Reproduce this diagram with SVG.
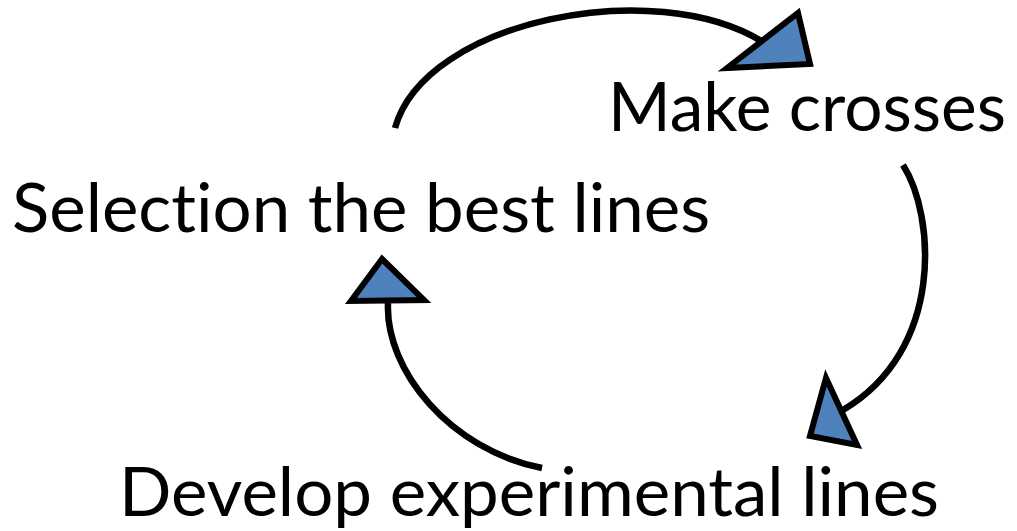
<svg xmlns="http://www.w3.org/2000/svg" width="1017" height="531" viewBox="0 0 1017 531">
  <style>
    .label { font-family: Lato, "Open Sans", "Liberation Sans", sans-serif; font-size: 68px; fill: #000; font-variant-ligatures: none; font-feature-settings: "liga" 0, "dlig" 0; }
    .arc { fill: none; stroke: #000; stroke-width: 6.5; }
    .head { fill: #4f81bd; stroke: #000; stroke-width: 6; stroke-linejoin: miter; }
  </style>
  <rect width="1017" height="531" fill="#fff"/>

  <g id="connectors">
    <!-- selection -> crosses -->
    <path class="arc" d="M395,128 C425,20 655,-25 763,42"/>
    <polygon class="head" points="727,68 798,13 810,64"/>
    <!-- crosses -> develop -->
    <path class="arc" d="M903,165 C935,215 945,350 843,410"/>
    <polygon class="head" points="826,378 857,445 810,436"/>
    <!-- develop -> selection -->
    <path class="arc" d="M542,468 C450,450 385,370 388,303"/>
    <polygon class="head" points="382,259 424,300 351,301"/>
  </g>

  <g id="node-crosses">
    <text class="label" x="608" y="131" textLength="398" lengthAdjust="spacingAndGlyphs">Make crosses</text>
  </g>
  <g id="node-selection">
    <text class="label" x="12" y="232" textLength="698" lengthAdjust="spacingAndGlyphs">Selection the best lines</text>
  </g>
  <g id="node-develop">
    <text class="label" x="119" y="516" textLength="820" lengthAdjust="spacingAndGlyphs">Develop experimental lines</text>
  </g>
</svg>
